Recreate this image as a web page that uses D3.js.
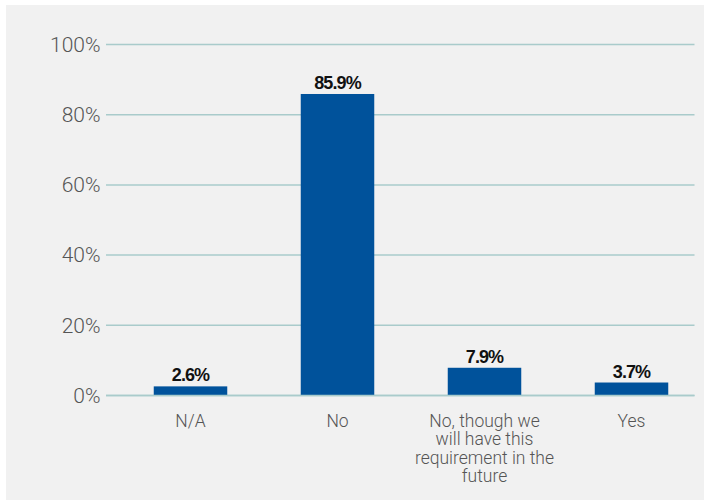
<!DOCTYPE html>
<html>
<head>
<meta charset="utf-8">
<script src="https://cdn.jsdelivr.net/npm/d3@7"></script>
<style>
  html, body { margin: 0; padding: 0; background: #ffffff; }
  svg { display: block; }
</style>
</head>
<body>
<svg id="chart" width="704" height="500"></svg>
<script>
// Survey responses (share of respondents, %)
const categories = ["N/A", "No", "No, though we will have this requirement in the future", "Yes"];
const categoryLines = [["N/A"], ["No"], ["No, though we", "will have this", "requirement in the", "future"], ["Yes"]];
const values = [2.6, 85.9, 7.9, 3.7];
const yTicks = [0, 20, 40, 60, 80, 100];
const yTickLabels = ["0%", "20%", "40%", "60%", "80%", "100%"];

const svg = d3.select("#chart");

// light grey panel
svg.append("rect")
  .attr("x", 6).attr("y", 5)
  .attr("width", 698).attr("height", 495)
  .attr("fill", "#f1f1f1");

const y = d3.scaleLinear().domain([0, 100]).range([395.5, 44.5]);
const x = d3.scaleBand().domain(categories).range([117, 705]).paddingInner(0.5).paddingOuter(0.25);

const gridX0 = 106, gridX1 = 694.5;

// horizontal grid lines
svg.append("g")
  .selectAll("line")
  .data(yTicks)
  .join("line")
  .attr("x1", gridX0).attr("x2", gridX1)
  .attr("y1", d => y(d)).attr("y2", d => y(d))
  .attr("stroke", "#a9cbcb")
  .attr("stroke-width", 1.5);

// y tick labels
svg.append("g")
  .selectAll("text")
  .data(yTicks)
  .join("text")
  .attr("x", 100.5)
  .attr("y", d => y(d))
  .attr("dy", "0.35em")
  .attr("text-anchor", "end")
  .attr("font-family", "Roboto, 'Liberation Sans', sans-serif")
  .attr("font-weight", 300)
  .attr("font-size", 21)
  .attr("fill", "#555555")
  .text((d, i) => yTickLabels[i]);

// bars
svg.append("g")
  .selectAll("rect")
  .data(values)
  .join("rect")
  .attr("x", (d, i) => x(categories[i]))
  .attr("width", x.bandwidth())
  .attr("y", d => y(d))
  .attr("height", d => y(0) - y(d))
  .attr("fill", "#00529b");

// baseline drawn over bar bottoms
svg.append("line")
  .attr("x1", gridX0).attr("x2", gridX1)
  .attr("y1", y(0)).attr("y2", y(0))
  .attr("stroke", "#a9cbcb")
  .attr("stroke-width", 1.5);

// value labels
svg.append("g")
  .selectAll("text")
  .data(values)
  .join("text")
  .attr("x", (d, i) => x(categories[i]) + x.bandwidth() / 2)
  .attr("y", d => y(d) - 5)
  .attr("text-anchor", "middle")
  .attr("font-family", "'Liberation Sans', Arial, sans-serif")
  .attr("font-weight", "bold")
  .attr("font-size", 18)
  .attr("letter-spacing", "-0.9px")
  .attr("fill", "#111111")
  .text(d => d.toFixed(1) + "%");

// category labels, wrapped
const catG = svg.append("g");
categories.forEach((c, i) => {
  const t = catG.append("text")
    .attr("x", x(c) + x.bandwidth() / 2)
    .attr("y", 427)
    .attr("text-anchor", "middle")
    .attr("font-family", "Roboto, 'Liberation Sans', sans-serif")
    .attr("font-weight", 300)
    .attr("font-size", 17.5)
    .attr("fill", "#555555");
  categoryLines[i].forEach((line, j) => {
    t.append("tspan")
      .attr("x", x(c) + x.bandwidth() / 2)
      .attr("dy", j === 0 ? 0 : 18.3)
      .text(line);
  });
});
</script>
</body>
</html>
